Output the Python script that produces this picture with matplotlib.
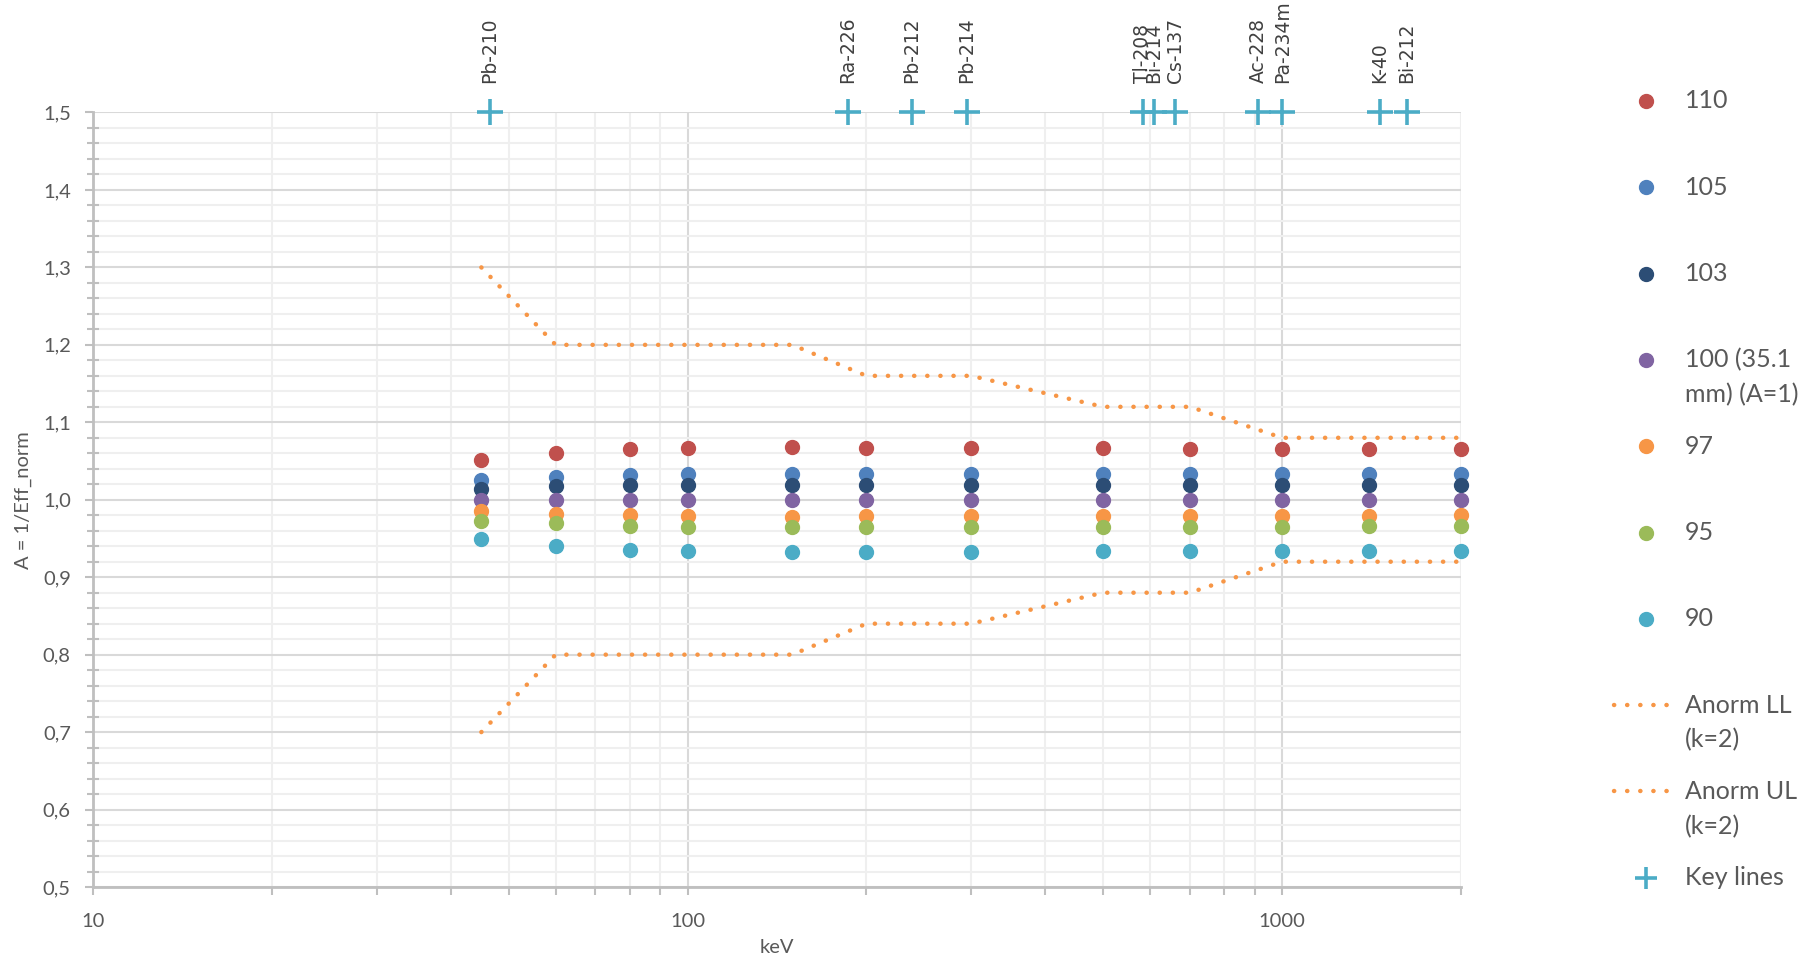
import matplotlib
matplotlib.use("Agg")
import matplotlib.pyplot as plt
from matplotlib.lines import Line2D
from matplotlib.ticker import FixedLocator, FuncFormatter, MultipleLocator, NullFormatter

# energies of the calibration points (keV)
energies = [45, 60, 80, 100, 150, 200, 300, 500, 700, 1000, 1400, 2000]

a110 = [1.051, 1.061, 1.065, 1.067, 1.068, 1.067, 1.067, 1.067, 1.065, 1.065, 1.065, 1.065]
a105 = [1.026, 1.030, 1.032, 1.033, 1.033, 1.033, 1.033, 1.033, 1.033, 1.033, 1.033, 1.033]
a103 = [1.014, 1.018, 1.019, 1.019, 1.019, 1.019, 1.019, 1.019, 1.019, 1.019, 1.019, 1.019]
a100 = [1.000, 1.000, 1.000, 1.000, 1.000, 1.000, 1.000, 1.000, 1.000, 1.000, 1.000, 1.000]
a97 = [0.985, 0.982, 0.980, 0.979, 0.978, 0.979, 0.979, 0.979, 0.979, 0.979, 0.979, 0.980]
a95 = [0.973, 0.970, 0.966, 0.965, 0.965, 0.965, 0.965, 0.965, 0.965, 0.965, 0.966, 0.966]
a90 = [0.949, 0.940, 0.935, 0.934, 0.933, 0.932, 0.932, 0.934, 0.934, 0.934, 0.934, 0.934]

anorm_ll = [0.70, 0.80, 0.80, 0.80, 0.80, 0.84, 0.84, 0.88, 0.88, 0.92, 0.92, 0.92]
anorm_ul = [1.30, 1.20, 1.20, 1.20, 1.20, 1.16, 1.16, 1.12, 1.12, 1.08, 1.08, 1.08]

key_names = ["Pb-210", "Ra-226", "Pb-212", "Pb-214", "Tl-208", "Bi-214", "Cs-137",
             "Ac-228", "Pa-234m", "K-40", "Bi-212"]
key_energies = [46.5, 186.2, 238.6, 295.2, 583.2, 609.3, 661.7, 911.2, 1001.0, 1460.8, 1620.7]
key_level = [1.5] * len(key_energies)

series = [
    ("110", a110, "#C0504D"),
    ("105", a105, "#4F81BD"),
    ("103", a103, "#2C4D75"),
    ("100 (35.1\nmm) (A=1)", a100, "#8064A2"),
    ("97", a97, "#F79646"),
    ("95", a95, "#9BBB59"),
    ("90", a90, "#4BACC6"),
]
limit_color = "#F79646"
key_color = "#4BACC6"
text_color = "#595959"

W, H = 1818, 968
fig = plt.figure(figsize=(W / 100, H / 100), dpi=100)
ax = fig.add_axes([93 / W, 1 - 887 / H, (1461 - 93) / W, (887 - 112.5) / H])

ax.set_xscale("log")
ax.set_xlim(10, 2000)
ax.set_ylim(0.5, 1.5)

# grid
ax.yaxis.set_major_locator(MultipleLocator(0.1))
ax.yaxis.set_minor_locator(MultipleLocator(0.02))
ax.xaxis.set_major_locator(FixedLocator([10, 100, 1000]))
ax.xaxis.set_major_formatter(FuncFormatter(lambda v, p: f"{v:.0f}"))
ax.xaxis.set_minor_locator(FixedLocator([m * d for d in (10, 100, 1000) for m in range(2, 10)]))
ax.xaxis.set_minor_formatter(NullFormatter())
ax.grid(True, which="major", color="#D9D9D9", lw=1.5, zorder=0)
ax.grid(True, which="minor", color="#EFEFEF", lw=1.5, zorder=0)
ax.set_axisbelow(True)

for s in ("top", "right"):
    ax.spines[s].set_visible(False)
for s in ("left", "bottom"):
    ax.spines[s].set_color("#BFBFBF")
    ax.spines[s].set_linewidth(2)

ax.yaxis.set_major_formatter(FuncFormatter(lambda v, p: f"{v:.1f}".replace(".", ",")))
ax.tick_params(which="major", axis="y", length=6, width=1.5, color="#BFBFBF", direction="out",
               labelsize=14.5, labelcolor=text_color, pad=10)
ax.tick_params(which="minor", axis="y", length=8, width=1.5, color="#BFBFBF", direction="inout")
ax.tick_params(which="both", axis="x", length=6, width=1.5, color="#BFBFBF", direction="out",
               labelsize=14.5, labelcolor=text_color, pad=13)
for lab in ax.get_xticklabels() + ax.get_yticklabels():
    lab.set_fontfamily("Lato")

ax.set_xlabel("keV", fontsize=14.5, color=text_color, fontfamily="Lato", labelpad=6)
ax.set_ylabel("A = 1/Eff_norm", fontsize=14.5, color=text_color, fontfamily="Lato", labelpad=8)

dotted = (0, (0.05, 2.9))
ax.plot(energies, anorm_ll, color=limit_color, lw=3.2, ls=dotted, dash_capstyle="round", zorder=3)
ax.plot(energies, anorm_ul, color=limit_color, lw=3.2, ls=dotted, dash_capstyle="round", zorder=3)

for name, vals, col in series:
    ax.plot(energies, vals, ls="none", marker="o", ms=10, color=col, mec=col, clip_on=False, zorder=4)

ax.plot(key_energies, key_level, ls="none", marker="+", ms=19, mew=2.6, color=key_color,
        clip_on=False, zorder=5)
for name, e, lev in zip(key_names, key_energies, key_level):
    ax.annotate(name, (e, lev), xytext=(0, 21), textcoords="offset points", rotation=90,
                ha="center", va="bottom", fontsize=13.5, color="#404040", fontfamily="DejaVu Sans")

# legend, drawn by hand so that two-line entries keep the marker on the first line
entries = [(n, "marker", c) for n, _, c in series]
entries += [("Anorm LL\n(k=2)", "dotted", limit_color),
            ("Anorm UL\n(k=2)", "dotted", limit_color),
            ("Key lines", "plus", key_color)]
for i, (label, kind, col) in enumerate(entries):
    y = 1 - (101 + i * 86.3) / H
    if kind == "marker":
        fig.add_artist(Line2D([1646 / W], [y], marker="o", ms=10, color=col, ls="none",
                              transform=fig.transFigure))
    elif kind == "dotted":
        fig.add_artist(Line2D([1614 / W, 1676 / W], [y, y], color=col, lw=3.2, ls=dotted,
                              dash_capstyle="round", transform=fig.transFigure))
    else:
        fig.add_artist(Line2D([1646 / W], [y], marker="+", ms=16, mew=2.6, color=col, ls="none",
                              transform=fig.transFigure))
    for k, line in enumerate(label.split("\n")):
        fig.text(1685 / W, y - k * 35 / H, line, va="center", ha="left", fontsize=18,
                 color=text_color, fontfamily="Lato")

fig.savefig("out.png", dpi=100)
